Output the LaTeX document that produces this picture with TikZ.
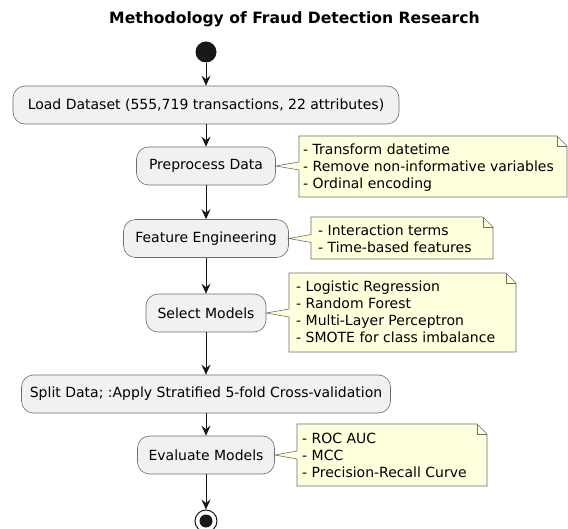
\documentclass[tikz,border=0pt]{standalone}
\usepackage{fontspec}
\setmainfont{DejaVu Sans}
\usetikzlibrary{arrows.meta}
\definecolor{boxfill}{HTML}{F1F1F1}
\definecolor{ink}{HTML}{181818}
\definecolor{edge}{HTML}{6E6E6E}
\definecolor{notefill}{HTML}{FEFFDD}
\newcommand\noteshape[6]{%
  \path[noteline] (#1,#2) -- (#3-10,#2) -- (#3,#2+10) -- (#3,#4) -- (#1,#4)
    -- (#1,#5+4) -- (#6) -- (#1,#5-4) -- cycle;
  \draw[edge, line width=0.6pt] (#3-10,#2) -- (#3-10,#2+10) -- (#3,#2+10);}
\begin{document}
\begin{tikzpicture}[x=1pt,y=-1pt,
  act/.style={draw=edge, line width=0.6pt, fill=boxfill, rounded corners=12pt,
    minimum height=38pt, inner sep=0pt, font=\fontsize{14}{17}\selectfont},
  notetext/.style={anchor=base west, align=left, inner sep=0pt,
    font=\fontsize{14}{17}\selectfont},
  noteline/.style={draw=edge, line width=0.6pt, fill=notefill},
  flow/.style={draw=ink, line width=1pt, -{Stealth[length=10pt,width=9pt,inset=3.5pt]}},
]
\useasboundingbox (0,0) rectangle (568,529);
\fill[white] (0,0) rectangle (568,529);

\node[font=\bfseries\fontsize{15.6}{18}\selectfont] (title) at (294.5,19) {Methodology of Fraud Detection Research};

\node[circle, fill=ink, minimum size=21pt, inner sep=0pt] (start) at (206,52) {};
\node[act, minimum width=386pt] (load) at (206,105) {Load Dataset (555,719 transactions, 22 attributes)};
\node[act, minimum width=139pt] (prep) at (206,166) {Preprocess Data};
\node[act, minimum width=165pt] (feat) at (206,238.5) {Feature Engineering};
\node[act, minimum width=120pt] (sel) at (206,313) {Select Models};
\node[act, minimum width=369pt] (split) at (206,394) {Split Data; :Apply Stratified 5-fold Cross-validation};
\node[act, minimum width=137pt] (eval) at (206,455) {Evaluate Models};
\node[circle, draw=ink, line width=1pt, fill=white, minimum size=22pt, inner sep=0pt] (end) at (206,521) {};
\node[circle, fill=ink, minimum size=13pt, inner sep=0pt] (endcore) at (end.center) {};

\draw[flow] (start) -- (load);
\draw[flow] (load) -- (prep);
\draw[flow] (prep) -- (feat);
\draw[flow] (feat) -- (sel);
\draw[flow] (sel) -- (split);
\draw[flow] (split) -- (eval);
\draw[flow] (eval) -- (end);

\noteshape{299}{136}{567}{197}{166}{prep.east}
\node[notetext] (n1) at (303,189) {- Transform datetime\\- Remove non-informative variables\\- Ordinal encoding};

\noteshape{311}{217}{493}{259}{238.5}{feat.east}
\node[notetext] (n2) at (318,252.5) {- Interaction terms\\- Time-based features};

\noteshape{289}{273}{516}{352}{313}{sel.east}
\node[notetext] (n3) at (296,343) {- Logistic Regression\\- Random Forest\\- Multi-Layer Perceptron\\- SMOTE for class imbalance};

\noteshape{297}{424}{487}{486}{455}{eval.east}
\node[notetext] (n4) at (302,477) {- ROC AUC\\- MCC\\- Precision-Recall Curve};
\end{tikzpicture}
\end{document}
